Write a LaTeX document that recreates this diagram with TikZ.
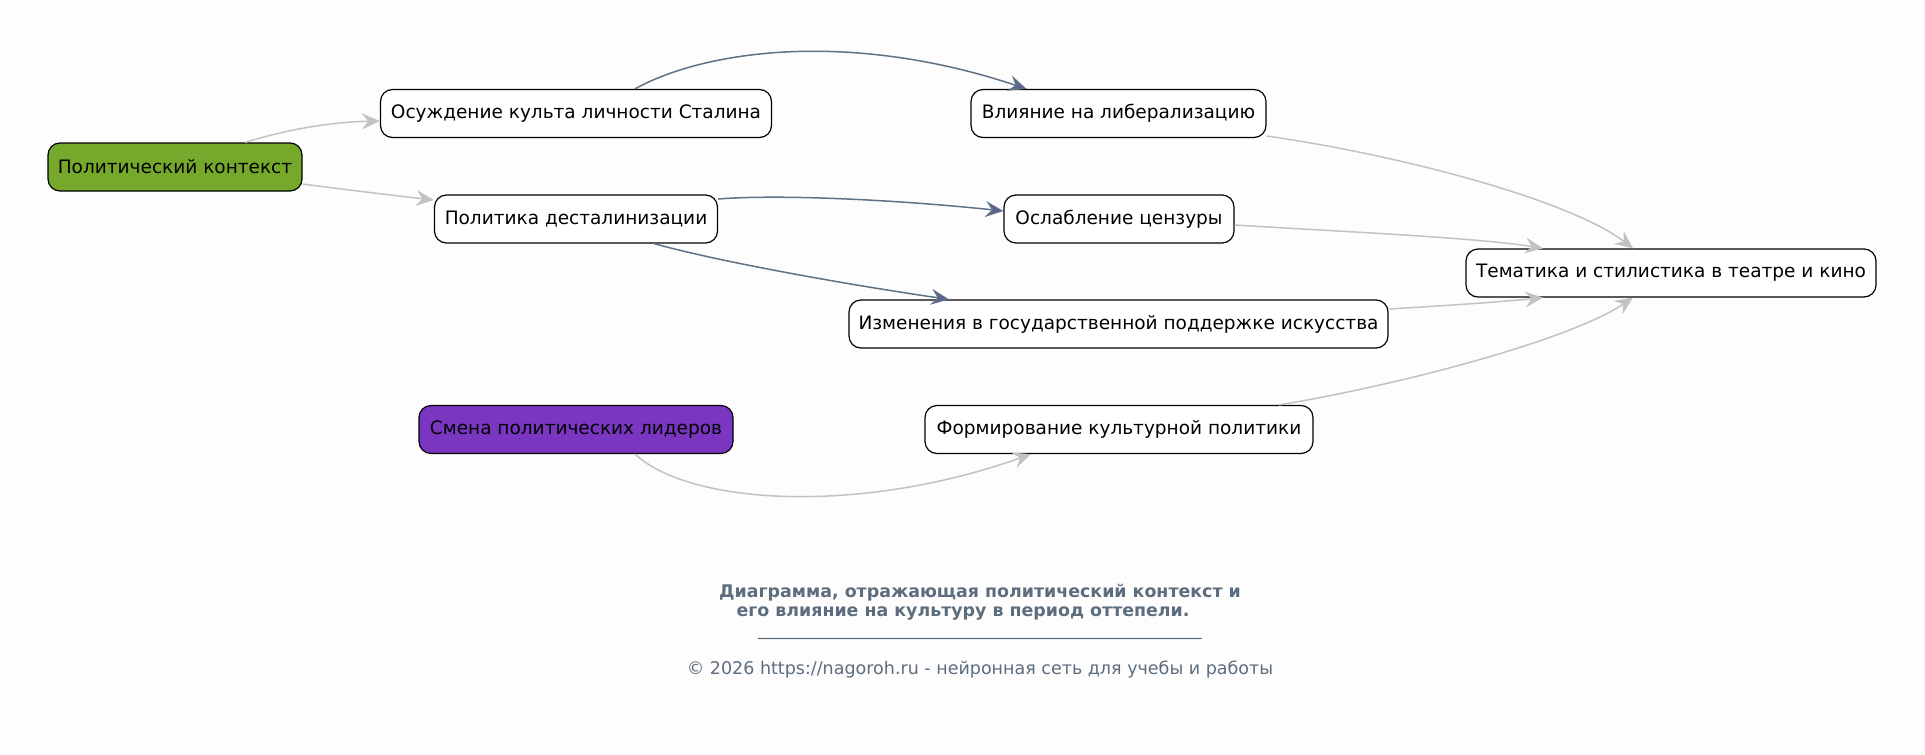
\documentclass[tikz,border=0pt]{standalone}
\usepackage{fontspec}
\setmainfont{DejaVu Sans}
\usetikzlibrary{arrows.meta,calc}
\definecolor{bg}{HTML}{FDFDFD}
\definecolor{greenfill}{HTML}{76A92B}
\definecolor{purplefill}{HTML}{7A35C1}
\definecolor{lightedge}{HTML}{C2C2C2}
\definecolor{darkedge}{HTML}{5F7184}
\definecolor{headfill}{HTML}{5C5E96}
\definecolor{titlecol}{HTML}{5D6D7E}
\tikzset{
  box/.style={draw=black, line width=1.2pt, rounded corners=12pt, fill=white,
    minimum height=48pt, inner sep=0pt, font=\fontsize{18.5}{22}\selectfont},
  lightarrow/.style={draw=lightedge, line width=1.5pt,
    -{Stealth[length=18pt,width=16pt,inset=6.5pt,fill=lightedge,color=lightedge]}},
  darkarrow/.style={draw=darkedge, line width=1.5pt,
    -{Stealth[length=18pt,width=16pt,inset=6.5pt,fill=headfill,color=darkedge]}},
}
\begin{document}
\begin{tikzpicture}[x=1pt,y=-1pt]
\useasboundingbox[fill=bg] (0,0) rectangle (1925,755);
% nodes
\node[box, fill=greenfill, minimum width=254pt] (pk) at (175,167) {Политический контекст};
\node[box, minimum width=391pt] (os) at (576,113.5) {Осуждение культа личности Сталина};
\node[box, minimum width=283pt] (pd) at (576,219) {Политика десталинизации};
\node[box, minimum width=295pt] (vl) at (1118.5,113.5) {Влияние на либерализацию};
\node[box, minimum width=230pt] (oc) at (1119,219) {Ослабление цензуры};
\node[box, minimum width=410pt] (tm) at (1671,273) {Тематика и стилистика в театре и кино};
\node[box, minimum width=539pt] (iz) at (1118.5,324) {Изменения в государственной поддержке искусства};
\node[box, fill=purplefill, minimum width=314pt] (sm) at (576,429.5) {Смена политических лидеров};
\node[box, minimum width=388pt] (fk) at (1119,429.5) {Формирование культурной политики};
% edges
\draw[lightarrow] ($(pk.north)+(70,0)$) .. controls (285,130) and (330,122) .. ($(os.west)+(0,7.5)$);
\draw[lightarrow] ($(pk.east)+(0,17)$) .. controls (340,189) and (390,195) .. ($(pd.west)+(0,-19)$);
\draw[darkarrow] ($(os.north)+(59,0)$) .. controls (705,50) and (850,30) .. ($(vl.north)+(-92,0)$);
\draw[darkarrow] ($(pd.east)+(0,-20)$) .. controls (780,194) and (900,200) .. ($(oc.west)+(0,-8)$);
\draw[darkarrow] ($(pd.south)+(78,0)$) .. controls (720,262) and (850,285) .. ($(iz.north)+(-169.5,0)$);
\draw[lightarrow] ($(vl.east)+(0,22.5)$) .. controls (1400,155) and (1570,200) .. ($(tm.north)+(-38,0)$);
\draw[lightarrow] ($(oc.east)+(0,6)$) .. controls (1350,232) and (1480,238) .. ($(tm.north)+(-128,0)$);
\draw[lightarrow] ($(iz.east)+(0,-15)$) .. controls (1440,306) and (1500,302) .. ($(tm.south)+(-128,0)$);
\draw[lightarrow] ($(fk.north)+(160,0)$) .. controls (1400,385) and (1570,340) .. ($(tm.south)+(-38,0)$);
\draw[lightarrow] ($(sm.south)+(59,0)$) .. controls (690,505) and (860,515) .. ($(fk.south)+(-88,0)$);
% caption
\node[text=titlecol, font=\bfseries\fontsize{17.4}{19}\selectfont, align=center] (title) at (980,602)
  {Диаграмма, отражающая политический контекст и\\его влияние на культуру в период оттепели.\kern34pt};
\node[text=titlecol, font=\fontsize{17.4}{19}\selectfont] (rule) at (980,638)
  {\_\_\_\_\_\_\_\_\_\_\_\_\_\_\_\_\_\_\_\_\_\_\_\_\_\_\_\_\_\_\_\_\_\_\_\_\_\_\_\_\_\_\_\_\_\_\_\_\_\_\_};
\node[text=titlecol, font=\fontsize{17.5}{20}\selectfont] (copy) at (980,670)
  {© 2026 https://nagoroh.ru - нейронная сеть для учебы и работы};
\end{tikzpicture}
\end{document}
